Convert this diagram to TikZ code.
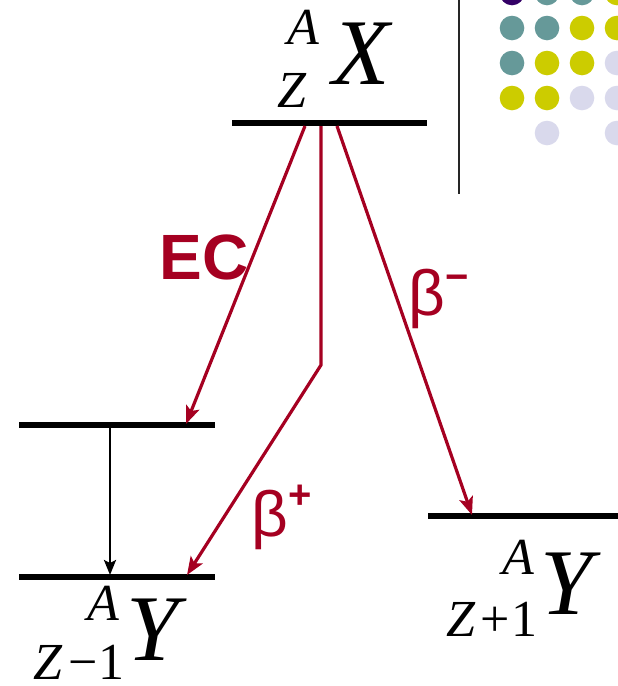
\documentclass[tikz,border=0pt]{standalone}
\usepackage{fontspec}
\setmainfont{Liberation Serif}
\newfontfamily\arialf{Liberation Sans}
\usetikzlibrary{arrows.meta}
\definecolor{decred}{HTML}{A50021}
\definecolor{dteal}{HTML}{669999}
\definecolor{dyel}{HTML}{CCCC00}
\definecolor{dlav}{HTML}{D9D9EC}
\definecolor{dpur}{HTML}{330066}
\tikzset{
  level/.style={line width=5.5pt},
  decay/.style={draw=decred, line width=3.2pt, -{Stealth[length=18pt,width=14pt,inset=4pt]}},
  gamma/.style={line width=2.5pt, -{Stealth[length=15pt,width=12pt,inset=3pt]}},
  big/.style={inner sep=0pt, font=\fontsize{94}{94}\selectfont\itshape},
  small/.style={inner sep=0pt, font=\fontsize{52}{52}\selectfont\itshape},
  sub/.style={inner sep=0pt, font=\fontsize{52}{52}\selectfont},
  lab/.style={inner sep=0pt, text=decred, font=\arialf\fontsize{64}{64}\selectfont},
  dot/.style={circle, inner sep=0pt, minimum size=24.6pt}
}
\newcommand{\supsign}[2]{\raisebox{#1}{\bfseries\fontsize{40}{40}\selectfont #2}}
\begin{document}
\begin{tikzpicture}[x=1pt,y=-1pt]
\useasboundingbox (0,0) rectangle (618,686);
\clip (0,0) rectangle (618,686);
% decorative dots
\foreach \c/\px/\py in {dpur/512/-7, dteal/547/-7, dteal/582/-7, dyel/617/-7,
  dteal/512/28, dteal/547/28, dyel/582/28, dyel/617/28,
  dteal/512/63, dyel/547/63, dyel/582/63, dlav/617/63,
  dyel/512/98, dyel/547/98, dlav/582/98, dlav/617/98,
  dlav/547/133, dlav/617/133}
  \node[dot, fill=\c] at (\px,\py) {};
\draw[line width=1.5pt, black!85] (459,0) -- (459,194);
% levels
\coordinate (xl) at (232,123); \coordinate (xr) at (427,123);
\coordinate (ul) at (19,425); \coordinate (ur) at (215,425);
\coordinate (ll) at (19,577); \coordinate (lr) at (215,577);
\coordinate (rl) at (428,516); \coordinate (rr) at (618,516);
\draw[level] (xl) -- (xr);
\draw[level] (ul) -- (ur);
\draw[level] (ll) -- (lr);
\draw[level] (rl) -- (rr);
% decay paths
\coordinate (s1) at (305,126); \coordinate (e1) at (186,424);
\coordinate (s2) at (321,126); \coordinate (b2) at (321,365); \coordinate (e2) at (187,575);
\coordinate (s3) at (337,126); \coordinate (e3) at (472,515);
\coordinate (g1) at (110,428); \coordinate (g2) at (110,575);
\draw[decay] (s1) -- (e1);
\draw[decay] (s2) -- (b2) -- (e2);
\draw[decay] (s3) -- (e3);
\draw[gamma] (g1) -- (g2);
% nuclide labels
\node[small] (xa) at (303,27) {A};
\node[small] (xz) at (292,90) {Z};
\node[big] (xx) at (361,54) {X};
\node[small] (la) at (103,603) {A};
\node[sub] (lz) at (79,662) {\textit{Z}\kern5pt−\kern1pt1};
\node[big] (ly) at (153,630) {Y};
\node[small] (ra) at (518,557) {A};
\node[sub] (rz) at (492,619) {\textit{Z}\kern5pt+\kern2pt1};
\node[big] (ry) at (567,584) {Y};
% decay labels
\node[lab, font=\arialf\bfseries\fontsize{64}{64}\selectfont] (ec) at (204,257) {EC};
\node[lab, anchor=base west] (bm) at (408,315) {β\supsign{25pt}{−}};
\node[lab, anchor=base west] (bp) at (251,536) {β\supsign{28pt}{+}};
\end{tikzpicture}
\end{document}
